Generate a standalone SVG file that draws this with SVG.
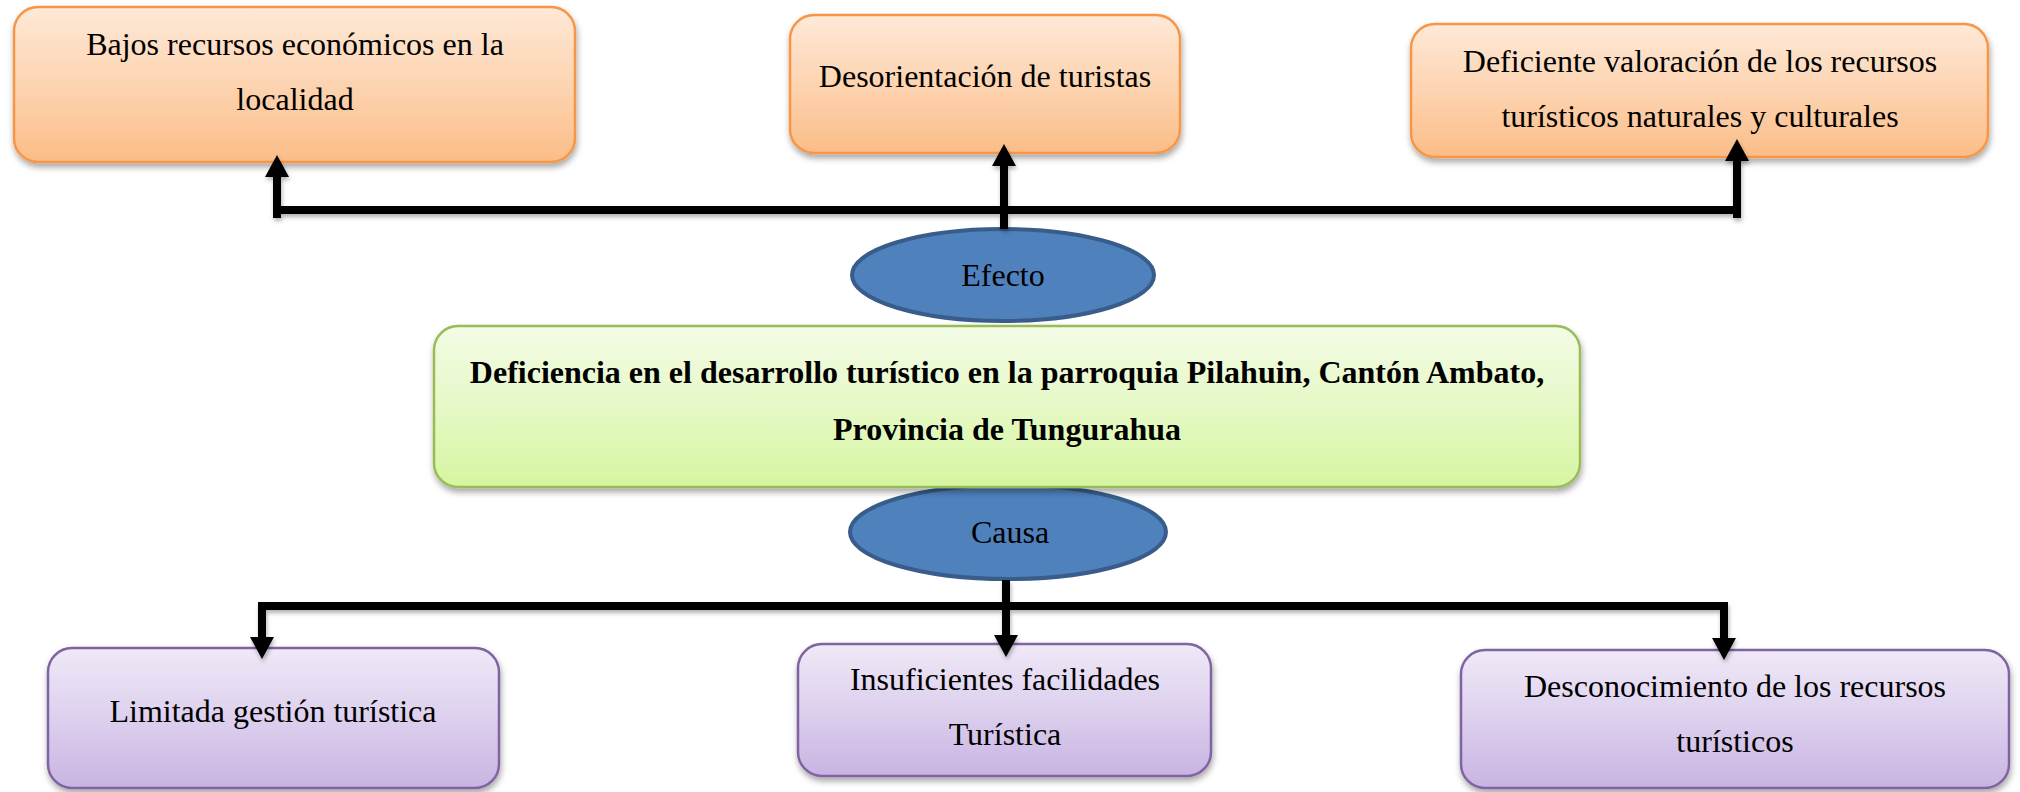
<svg xmlns="http://www.w3.org/2000/svg" width="2020" height="792" viewBox="0 0 2020 792">
  <style>
    .t { font-family: "Liberation Serif", "Times New Roman", serif; font-size: 32px; fill: #000; text-anchor: middle; }
    .b { font-weight: bold; }
    .orange { fill: url(#gOrange); stroke: #f79646; stroke-width: 2.5; filter: url(#sh); }
    .green { fill: url(#gGreen); stroke: #9bbb59; stroke-width: 2.5; filter: url(#sh); }
    .purple { fill: url(#gPurple); stroke: #8064a2; stroke-width: 2.5; filter: url(#sh); }
    .oval { fill: #4f81bd; stroke: #385d8a; stroke-width: 4; }
    .conn { fill: none; stroke: #000; stroke-width: 8; stroke-linejoin: miter; marker-end: url(#ah); }
    .bar { fill: none; stroke: #000; stroke-width: 8; }
  </style>
  <defs>
    <linearGradient id="gOrange" x1="0" y1="0" x2="0" y2="1">
      <stop offset="0" stop-color="#fee9d8"/>
      <stop offset="0.5" stop-color="#fdd4b1"/>
      <stop offset="1" stop-color="#fbbd88"/>
    </linearGradient>
    <linearGradient id="gGreen" x1="0" y1="0" x2="0" y2="1">
      <stop offset="0" stop-color="#f3fbe6"/>
      <stop offset="0.5" stop-color="#e6f9c6"/>
      <stop offset="1" stop-color="#d5f6a1"/>
    </linearGradient>
    <linearGradient id="gPurple" x1="0" y1="0" x2="0" y2="1">
      <stop offset="0" stop-color="#efe9f7"/>
      <stop offset="0.5" stop-color="#ddd0ee"/>
      <stop offset="1" stop-color="#c8b4e2"/>
    </linearGradient>
    <filter id="sh" x="-5%" y="-10%" width="110%" height="130%">
      <feDropShadow dx="1" dy="4" stdDeviation="3" flood-color="#000" flood-opacity="0.35"/>
    </filter>
    <filter id="shc" x="-5%" y="-20%" width="110%" height="140%">
      <feDropShadow dx="1" dy="3" stdDeviation="2" flood-color="#000" flood-opacity="0.3"/>
    </filter>
    <marker id="ah" viewBox="0 0 22 24" refX="0" refY="12" markerWidth="22" markerHeight="24" markerUnits="userSpaceOnUse" orient="auto">
      <path d="M0,0 L22,12 L0,24 z" fill="#000"/>
    </marker>
  </defs>

  <g id="ellipse-efecto">
    <ellipse class="oval" cx="1003" cy="275" rx="151" ry="46"/>
    <text class="t" x="1003" y="286">Efecto</text>
  </g>
  <g id="ellipse-causa">
    <ellipse class="oval" cx="1008" cy="532" rx="158" ry="47"/>
    <text class="t" x="1010" y="543">Causa</text>
  </g>

  <g id="effect-1">
    <rect class="orange" x="14" y="7" width="561" height="155" rx="24"/>
    <text class="t" x="295" y="55">Bajos recursos económicos en la</text>
    <text class="t" x="295" y="110">localidad</text>
  </g>
  <g id="effect-2">
    <rect class="orange" x="790" y="15" width="390" height="138" rx="24"/>
    <text class="t" x="985" y="87">Desorientación de turistas</text>
  </g>
  <g id="effect-3">
    <rect class="orange" x="1411" y="24" width="577" height="133" rx="24"/>
    <text class="t" x="1700" y="72">Deficiente valoración de los recursos</text>
    <text class="t" x="1700" y="127">turísticos naturales y culturales</text>
  </g>

  <g id="problem">
    <rect class="green" x="434" y="326" width="1146" height="161" rx="24"/>
    <text class="t b" x="1007" y="383">Deficiencia en el desarrollo turístico en la parroquia Pilahuin, Cantón Ambato,</text>
    <text class="t b" x="1007" y="440">Provincia de Tungurahua</text>
  </g>

  <g id="cause-1">
    <rect class="purple" x="48" y="648" width="451" height="140" rx="24"/>
    <text class="t" x="273" y="722">Limitada gestión turística</text>
  </g>
  <g id="cause-2">
    <rect class="purple" x="798" y="644" width="413" height="132" rx="24"/>
    <text class="t" x="1005" y="690">Insuficientes facilidades</text>
    <text class="t" x="1005" y="745">Turística</text>
  </g>
  <g id="cause-3">
    <rect class="purple" x="1461" y="650" width="548" height="138" rx="24"/>
    <text class="t" x="1735" y="697">Desconocimiento de los recursos</text>
    <text class="t" x="1735" y="752">turísticos</text>
  </g>

  <g id="connectors" filter="url(#shc)">
    <path class="bar" d="M273,210 H1741"/>
    <path class="conn" d="M277,218 V177"/>
    <path class="conn" d="M1004,229 V166"/>
    <path class="conn" d="M1737,218 V161"/>
    <path class="bar" d="M258,606 H1728"/>
    <path class="conn" d="M262,602 V637"/>
    <path class="conn" d="M1006,580 V635"/>
    <path class="conn" d="M1724,602 V638"/>
  </g>
</svg>
